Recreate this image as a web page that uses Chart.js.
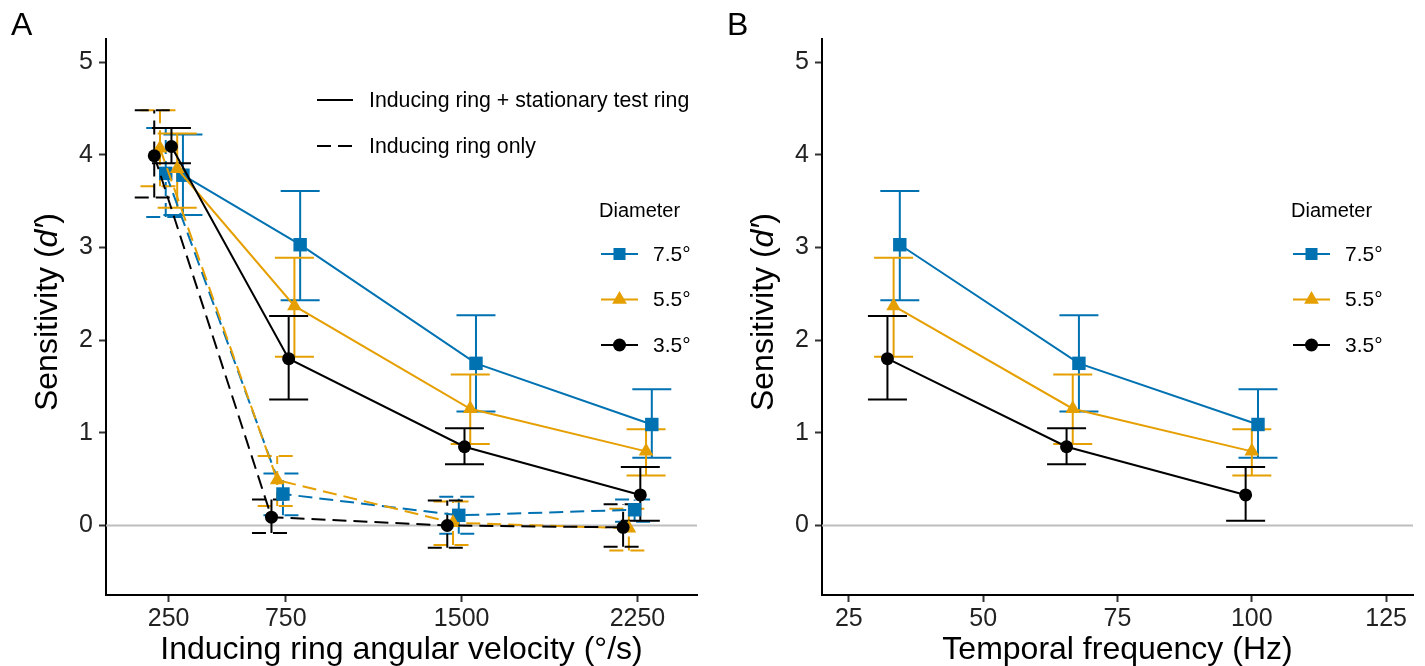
<!DOCTYPE html>
<html>
<head>
<meta charset="utf-8">
<script src="https://cdn.jsdelivr.net/npm/chart.js@4.4.1/dist/chart.umd.min.js"></script>
<style>
body { margin: 0; background: #fff; }
#wrap { position: relative; width: 1425px; height: 666px; }
canvas { position: absolute; top: 0; }
#panelA { left: 0; }
#panelB { left: 716px; }
</style>
</head>
<body>
<div id="wrap">
  <canvas id="panelA" width="712" height="666"></canvas>
  <canvas id="panelB" width="709" height="666"></canvas>
</div>
<script>
var FONT = '"Liberation Sans", Arial, sans-serif';

// x categories
var velocities = [250, 750, 1500, 2250];      // deg/s
var frequencies = [33.33, 66.67, 100];         // Hz (same conditions as 750/1500/2250)
var yTicks = [0, 1, 2, 3, 4, 5];
var velocityTicks = [250, 750, 1500, 2250];
var freqTicks = [25, 50, 75, 100, 125];

// Inducing ring + stationary test ring (solid)
var stat75 = [3.78, 3.03, 1.75, 1.09];
var stat75Lo = [3.35, 2.43, 1.23, 0.73];
var stat75Hi = [4.22, 3.61, 2.27, 1.47];
var stat55 = [3.85, 2.37, 1.26, 0.80];
var stat55Lo = [3.43, 1.82, 0.88, 0.54];
var stat55Hi = [4.23, 2.89, 1.63, 1.04];
var stat35 = [4.09, 1.80, 0.85, 0.33];
var stat35Lo = [3.91, 1.36, 0.66, 0.05];
var stat35Hi = [4.29, 2.26, 1.05, 0.63];

// Inducing ring only (dashed)
var only75 = [3.80, 0.34, 0.11, 0.17];
var only75Lo = [3.33, 0.11, -0.09, 0.04];
var only75Hi = [4.29, 0.56, 0.31, 0.28];
var only55 = [4.07, 0.49, 0.03, -0.03];
var only55Lo = [3.66, 0.21, -0.21, -0.27];
var only55Hi = [4.48, 0.75, 0.26, 0.18];
var only35 = [3.99, 0.09, 0.00, -0.02];
var only35Lo = [3.54, -0.08, -0.24, -0.23];
var only35Hi = [4.48, 0.28, 0.27, 0.23];

var BLUE = '#0072B2', ORANGE = '#E69F00', BLACK = '#000000';
var DASH = [14, 7];
var CAP = 19.5;
var R_SQ = 9.5, R_TRI = 8.5, R_DOT = 6.5;

function series(label, xs, ys, lo, hi, offset, color, style, radius, dashed) {
    return {
        label: label,
        data: ys.map(function(y, i) { return {x: xs[i] + offset, y: y}; }),
        errLo: lo,
        errHi: hi,
        borderColor: color,
        backgroundColor: color,
        pointBackgroundColor: color,
        pointBorderWidth: 0,
        pointStyle: style,
        pointRadius: radius,
        pointHoverRadius: radius,
        borderWidth: 2,
        borderDash: dashed ? DASH : [],
        tension: 0,
        clip: false
    };
}

var errorBars = {
    id: 'errorBars',
    beforeDatasetsDraw: function(chart) {
        var ctx = chart.ctx, xs = chart.scales.x, ys = chart.scales.y, area = chart.chartArea;
        // zero reference line
        ctx.save();
        ctx.strokeStyle = '#bebebe';
        ctx.lineWidth = 2;
        ctx.beginPath();
        ctx.moveTo(area.left, ys.getPixelForValue(0));
        ctx.lineTo(area.right, ys.getPixelForValue(0));
        ctx.stroke();
        ctx.restore();
        for (var d = chart.data.datasets.length - 1; d >= 0; d--) {
            var ds = chart.data.datasets[d];
            ctx.save();
            ctx.strokeStyle = ds.borderColor;
            ctx.lineWidth = 2;
            ctx.setLineDash(ds.borderDash);
            ds.data.forEach(function(p, i) {
                var x = xs.getPixelForValue(p.x);
                var y1 = ys.getPixelForValue(ds.errLo[i]);
                var y2 = ys.getPixelForValue(ds.errHi[i]);
                ctx.beginPath();
                ctx.moveTo(x, y1); ctx.lineTo(x, y2);
                ctx.moveTo(x - CAP, y1); ctx.lineTo(x + CAP, y1);
                ctx.moveTo(x - CAP, y2); ctx.lineTo(x + CAP, y2);
                ctx.stroke();
            });
            ctx.restore();
        }
    }
};

function drawKey(ctx, x0, x1, y, color, style, radius, dash) {
    ctx.save();
    ctx.strokeStyle = color;
    ctx.lineWidth = 2;
    ctx.setLineDash(dash || []);
    ctx.beginPath();
    ctx.moveTo(x0, y);
    ctx.lineTo(x1, y);
    ctx.stroke();
    if (style) {
        ctx.fillStyle = color;
        Chart.helpers.drawPoint(ctx, {pointStyle: style, radius: radius, rotation: 0, borderWidth: 0}, (x0 + x1) / 2, y);
    }
    ctx.restore();
}

var diameterKeys = [
    {label: '7.5°', color: BLUE, style: 'rect', radius: R_SQ - 1},
    {label: '5.5°', color: ORANGE, style: 'triangle', radius: R_TRI},
    {label: '3.5°', color: BLACK, style: 'circle', radius: R_DOT}
];
var keyRows = [254, 299.5, 345];

function makeDecor(letter, xTitle, legX, showLinetype) {
    return {
        id: 'decor',
        afterDraw: function(chart) {
            var ctx = chart.ctx, area = chart.chartArea;
            ctx.save();
            ctx.fillStyle = '#000';
            ctx.textBaseline = 'alphabetic';
            ctx.textAlign = 'left';
            ctx.font = '32px ' + FONT;
            ctx.fillText(letter, 11, 35);

            ctx.font = '32px ' + FONT;
            ctx.textAlign = 'center';
            ctx.fillText(xTitle, (area.left + area.right) / 2, 659);

            // y title with italic d'
            ctx.save();
            ctx.translate(57, 312);
            ctx.rotate(-Math.PI / 2);
            ctx.textAlign = 'left';
            var parts = [['Sensitivity (', ''], ['d′', 'italic '], [')', '']];
            var total = 0;
            parts.forEach(function(p) { ctx.font = p[1] + '32px ' + FONT; total += ctx.measureText(p[0]).width; });
            var x = -total / 2;
            parts.forEach(function(p) {
                ctx.font = p[1] + '32px ' + FONT;
                ctx.fillText(p[0], x, 0);
                x += ctx.measureText(p[0]).width;
            });
            ctx.restore();

            ctx.textAlign = 'left';
            ctx.textBaseline = 'middle';
            if (showLinetype) {
                drawKey(ctx, 317, 353, 100, BLACK, null, 0, []);
                drawKey(ctx, 317, 353, 146, BLACK, null, 0, DASH);
                ctx.font = '21.3px ' + FONT;
                ctx.fillText('Inducing ring + stationary test ring', 369, 101);
                ctx.fillText('Inducing ring only', 369, 147);
            }
            ctx.font = '20px ' + FONT;
            ctx.fillText('Diameter', legX - 2, 211);
            ctx.font = '21px ' + FONT;
            diameterKeys.forEach(function(k, i) {
                drawKey(ctx, legX, legX + 37, keyRows[i], k.color, k.style, k.radius, []);
                ctx.fillText(k.label, legX + 52, keyRows[i] + 1);
            });
            ctx.restore();
        }
    };
}

function axes(xMin, xMax, xTickVals) {
    var tickFont = {family: FONT, size: 25};
    return {
        x: {
            type: 'linear',
            min: xMin,
            max: xMax,
            afterBuildTicks: function(s) { s.ticks = xTickVals.map(function(v) { return {value: v}; }); },
            afterFit: function(s) { s.height = 71; },
            ticks: {font: tickFont, color: '#222', padding: 2, maxRotation: 0, autoSkip: false,
                     callback: function(v) { return String(v); }},
            grid: {drawOnChartArea: false, drawTicks: true, tickLength: 7, tickColor: '#333', tickWidth: 2},
            border: {display: true, color: '#000', width: 2}
        },
        y: {
            type: 'linear',
            min: -0.75,
            max: 5.25,
            afterBuildTicks: function(s) { s.ticks = yTicks.map(function(v) { return {value: v}; }); },
            afterFit: function(s) { s.width = 106; },
            ticks: {font: tickFont, color: '#222', padding: 6, callback: function(v) { return String(v); }},
            grid: {drawOnChartArea: false, drawTicks: true, tickLength: 7, tickColor: '#333', tickWidth: 2},
            border: {display: true, color: '#000', width: 2}
        }
    };
}

// dodge offsets used by the grouped points
var dodgeA = [-61.2, -36.7, -12.2, 12.2, 36.7, 61.2];
var dodgeB = [-1.15, 0, 1.15];

var configA = {
    type: 'line',
    data: {
        datasets: [
            series('stat 3.5', velocities, stat35, stat35Lo, stat35Hi, dodgeA[3], BLACK, 'circle', R_DOT, false),
            series('stat 5.5', velocities, stat55, stat55Lo, stat55Hi, dodgeA[4], ORANGE, 'triangle', R_TRI, false),
            series('stat 7.5', velocities, stat75, stat75Lo, stat75Hi, dodgeA[5], BLUE, 'rect', R_SQ, false),
            series('only 3.5', velocities, only35, only35Lo, only35Hi, dodgeA[0], BLACK, 'circle', R_DOT, true),
            series('only 5.5', velocities, only55, only55Lo, only55Hi, dodgeA[1], ORANGE, 'triangle', R_TRI, true),
            series('only 7.5', velocities, only75, only75Lo, only75Hi, dodgeA[2], BLUE, 'rect', R_SQ, true)
        ]
    },
    options: {
        responsive: false,
        animation: false,
        devicePixelRatio: 1,
        layout: {padding: {left: 0, top: 39, right: 15, bottom: 0}},
        plugins: {legend: {display: false}, tooltip: {enabled: false}},
        scales: axes(-17, 2504, velocityTicks)
    },
    plugins: [errorBars, makeDecor('A', 'Inducing ring angular velocity (°/s)', 601, true)]
};

var configB = {
    type: 'line',
    data: {
        datasets: [
            series('3.5', frequencies, stat35.slice(1), stat35Lo.slice(1), stat35Hi.slice(1), dodgeB[0], BLACK, 'circle', R_DOT, false),
            series('5.5', frequencies, stat55.slice(1), stat55Lo.slice(1), stat55Hi.slice(1), dodgeB[1], ORANGE, 'triangle', R_TRI, false),
            series('7.5', frequencies, stat75.slice(1), stat75Lo.slice(1), stat75Hi.slice(1), dodgeB[2], BLUE, 'rect', R_SQ, false)
        ]
    },
    options: {
        responsive: false,
        animation: false,
        devicePixelRatio: 1,
        layout: {padding: {left: 0, top: 39, right: 12, bottom: 0}},
        plugins: {legend: {display: false}, tooltip: {enabled: false}},
        scales: axes(20, 130, freqTicks)
    },
    plugins: [errorBars, makeDecor('B', 'Temporal frequency (Hz)', 577, false)]
};

window.chartA = new Chart(document.getElementById('panelA'), configA);
window.chartB = new Chart(document.getElementById('panelB'), configB);
</script>
</body>
</html>
